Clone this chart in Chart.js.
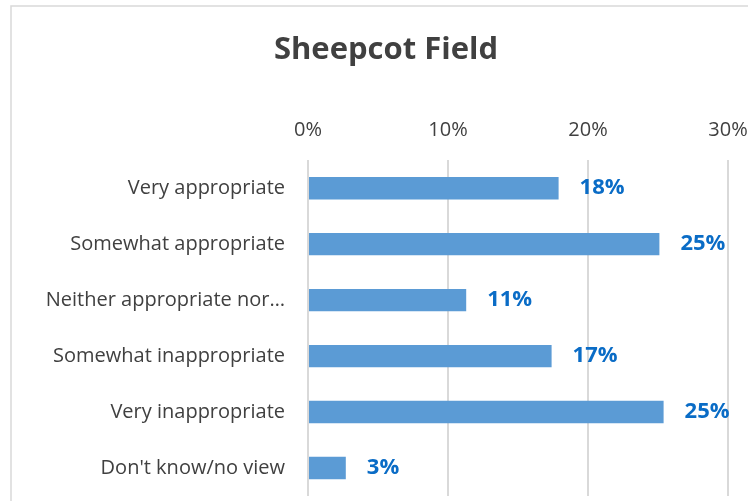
<!DOCTYPE html>
<html>
<head>
<meta charset="utf-8">
<script src="https://cdn.jsdelivr.net/npm/chart.js@4.4.1/dist/chart.umd.min.js"></script>
<style>
  html, body { margin: 0; padding: 0; background: #fff; }
  #wrap { position: relative; width: 748px; height: 501px; }
</style>
</head>
<body>
<div id="wrap"><canvas id="sheepcot_chart" width="748" height="501"></canvas></div>
<script>
const categories = [
    'Very appropriate',
    'Somewhat appropriate',
    'Neither appropriate nor\u2026',
    'Somewhat inappropriate',
    'Very inappropriate',
    "Don't know/no view"
];
const shares = [17.9, 25.1, 11.3, 17.4, 25.4, 2.7];
const shareLabels = ['18%', '25%', '11%', '17%', '25%', '3%'];
const axisTicks = [0, 10, 20, 30];

const FONT = "'Open Sans', 'DejaVu Sans', sans-serif";

// outer frame of the chart (left + top edge visible)
const framePlugin = {
    id: 'frame',
    beforeDraw(chart) {
        const ctx = chart.ctx;
        ctx.save();
        ctx.fillStyle = '#fff';
        ctx.fillRect(0, 0, chart.width, chart.height);
        ctx.strokeStyle = '#d9d9d9';
        ctx.lineWidth = 1.5;
        ctx.beginPath();
        ctx.moveTo(11, chart.height + 2);
        ctx.lineTo(11, 6);
        ctx.lineTo(chart.width + 2, 6);
        ctx.stroke();
        ctx.restore();
    }
};

// value labels at the end of each bar
const valueLabels = {
    id: 'valueLabels',
    afterDatasetsDraw(chart) {
        const ctx = chart.ctx;
        const meta = chart.getDatasetMeta(0);
        ctx.save();
        ctx.font = 'bold 22px ' + FONT;
        ctx.fillStyle = '#0a6cc6';
        ctx.textAlign = 'left';
        ctx.textBaseline = 'middle';
        meta.data.forEach((bar, i) => {
            ctx.fillText(shareLabels[i], bar.x + 21, bar.y);
        });
        ctx.restore();
    }
};

const ctx = document.getElementById('sheepcot_chart').getContext('2d');

new Chart(ctx, {
    type: 'bar',
    data: {
        labels: categories,
        datasets: [{
            label: 'Sheepcot Field',
            data: shares,
            backgroundColor: '#5b9bd5',
            borderWidth: 0,
            barPercentage: 0.4,
            categoryPercentage: 1.0
        }]
    },
    options: {
        indexAxis: 'y',
        responsive: false,
        animation: false,
        layout: {
            padding: { left: 44, right: 20, top: 0, bottom: 5 }
        },
        plugins: {
            legend: { display: false },
            tooltip: { enabled: false },
            title: {
                display: true,
                text: 'Sheepcot Field',
                color: '#404040',
                font: { family: FONT, size: 31, weight: 'bold' },
                padding: { top: 32, bottom: 49 }
            }
        },
        scales: {
            x: {
                position: 'top',
                min: 0,
                max: 30,
                afterBuildTicks(scale) {
                    scale.ticks = axisTicks.map((v) => ({ value: v }));
                },
                afterFit(scale) {
                    scale.height = 42;
                    scale.paddingLeft = 0;
                    scale.paddingRight = 0;
                },
                ticks: {
                    color: '#404040',
                    font: { family: FONT, size: 20 },
                    padding: 18,
                    maxRotation: 0,
                    callback: (v) => v + '%'
                },
                grid: {
                    color: '#d9d9d9',
                    lineWidth: 2,
                    drawTicks: false
                },
                border: { display: false }
            },
            y: {
                afterFit(scale) {
                    scale.width = 308 - 44;
                    scale.paddingTop = 0;
                    scale.paddingBottom = 0;
                },
                ticks: {
                    color: '#404040',
                    font: { family: FONT, size: 20 },
                    padding: 15
                },
                grid: { display: false },
                border: { display: false }
            }
        }
    },
    plugins: [framePlugin, valueLabels]
});
</script>
</body>
</html>
